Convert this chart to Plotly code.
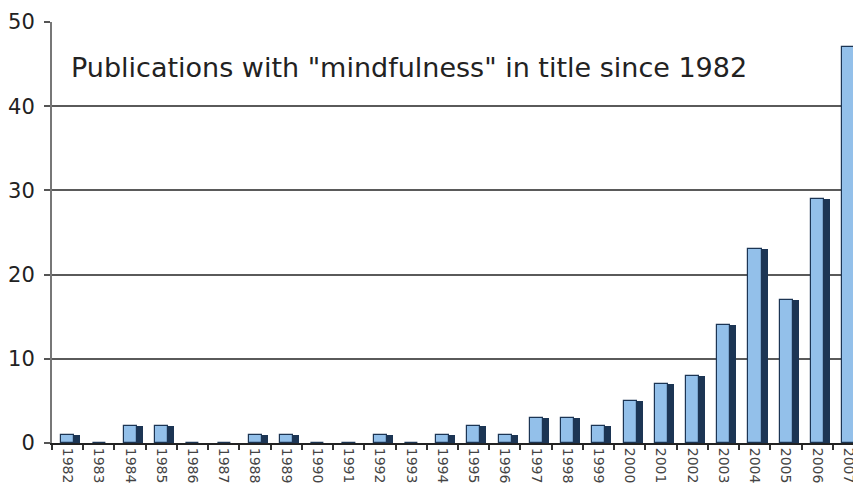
import plotly.graph_objects as go

years = [str(y) for y in range(1982, 2008)]
counts = [1, 0, 2, 2, 0, 0, 1, 1, 0, 0, 1, 0, 1, 2, 1, 3, 3, 2, 5, 7, 8, 14, 23, 17, 29, 47]
y_ticks = [0, 10, 20, 30, 40, 50]
title_text = 'Publications with "mindfulness" in title since 1982'

fig = go.Figure()
# dark side face (3D depth)
fig.add_trace(go.Bar(x=years, y=counts, width=0.19, offset=0.22,
                     marker=dict(color="#1c3554", line=dict(width=0)),
                     hoverinfo="skip"))
# light front face
fig.add_trace(go.Bar(x=years, y=counts, width=0.42, offset=-0.2,
                     marker=dict(color="#93c0ea", line=dict(color="#1c3554", width=1.2))))

fig.add_annotation(text=title_text, xref="paper", yref="y", x=0.021, y=44.65,
                   xanchor="left", yanchor="middle", showarrow=False,
                   font=dict(family="DejaVu Sans", size=27, color="#222222"))

fig.update_layout(
    width=861, height=500,
    margin=dict(l=44, r=5, t=14, b=65),
    paper_bgcolor="white", plot_bgcolor="white",
    barmode="overlay", bargap=0, showlegend=False,
    font=dict(family="DejaVu Sans", color="#222222"),
)
fig.update_xaxes(type="category", tickangle=90, tickson="boundaries",
                 ticks="outside", ticklen=5, tickcolor="#333333", tickwidth=1.5,
                 showline=True, linecolor="#222222", linewidth=2,
                 showgrid=False, automargin=False,
                 tickfont=dict(size=14, color="#444444"))
fig.update_yaxes(range=[0, 50], tickvals=y_ticks, ticks="outside", ticklen=6,
                 tickcolor="#555555", tickwidth=1.5, showline=True, linecolor="#777777", linewidth=2,
                 showgrid=True, gridcolor="#5a5a5a", gridwidth=2, zeroline=False,
                 automargin=False,
                 tickfont=dict(size=21, color="#222222"), ticklabelstandoff=5)

fig.write_html("out.html")
